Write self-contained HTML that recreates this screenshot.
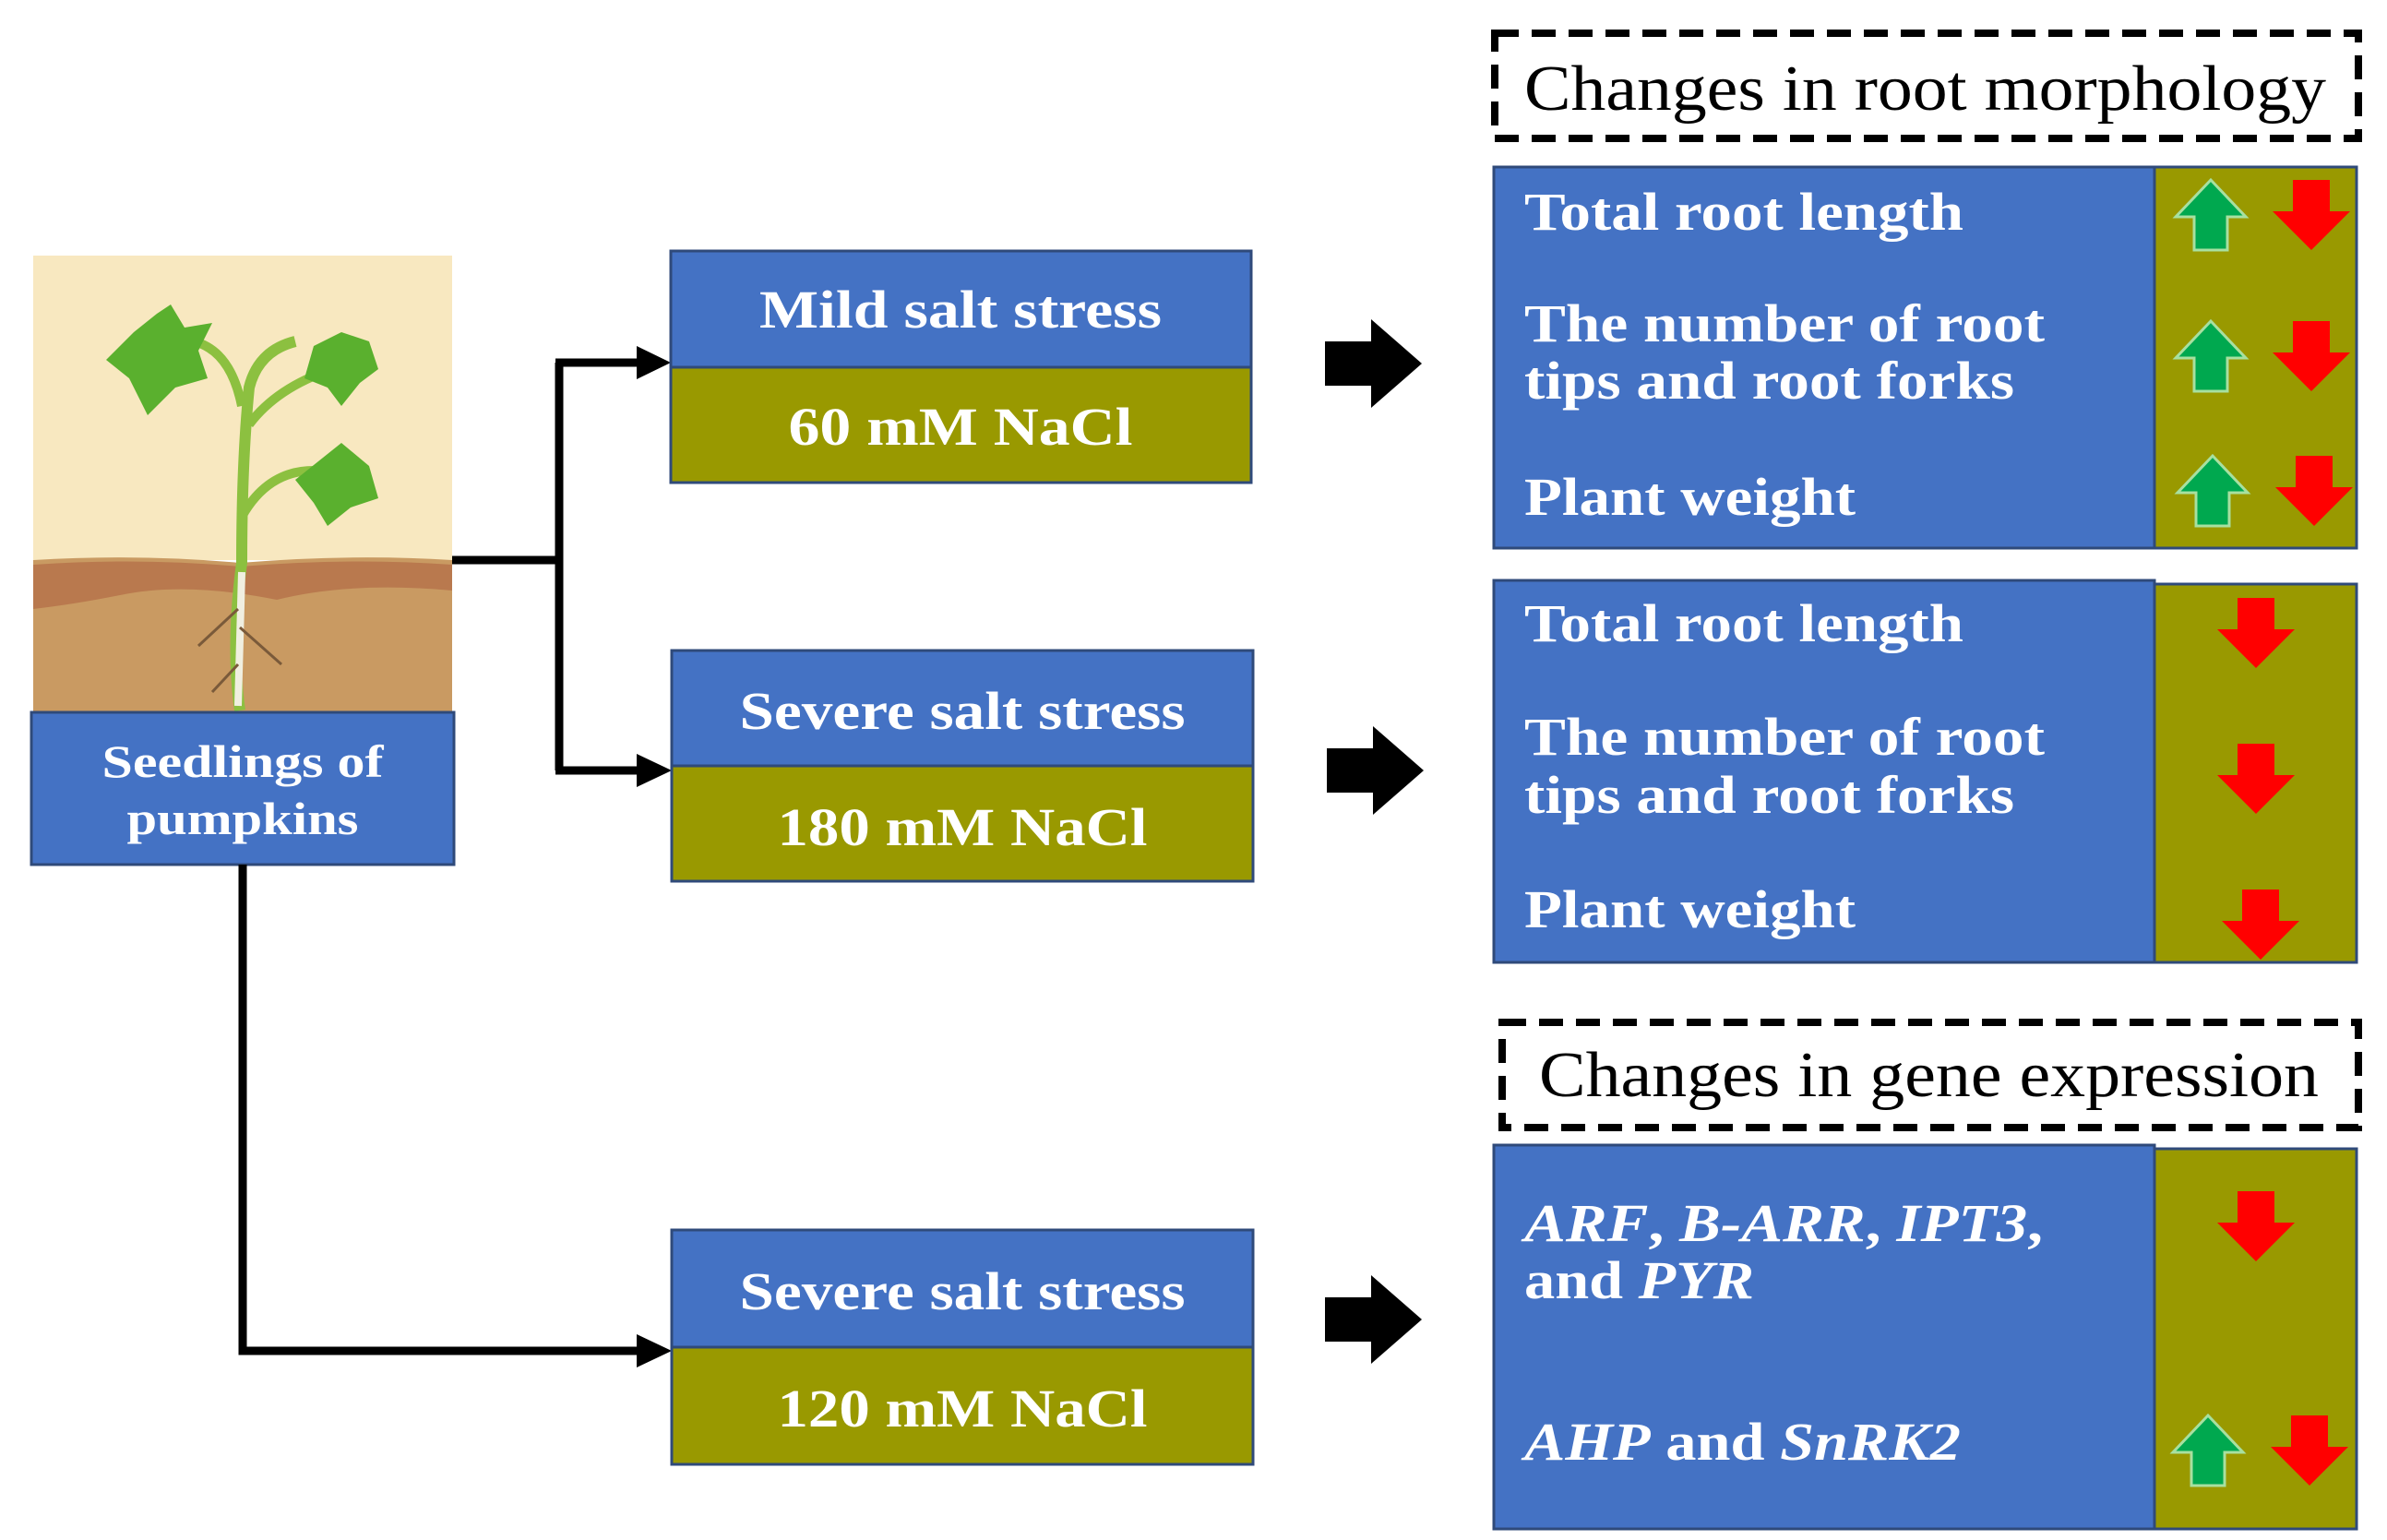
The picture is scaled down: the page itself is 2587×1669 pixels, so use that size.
<!DOCTYPE html>
<html><head><meta charset="utf-8"><style>
html,body{margin:0;padding:0;background:#fff}
svg{display:block}
.b{font-family:"Liberation Serif",serif;font-weight:bold;fill:#fff}
.t{font-family:"Liberation Serif",serif;fill:#000}
</style></head><body>
<svg width="2587" height="1669" viewBox="0 0 2587 1669" xmlns="http://www.w3.org/2000/svg">
<defs>
<g id="dn"><rect x="-20" y="-38" width="40" height="36" fill="#ff0000"/><polygon points="-42,-4 42,-4 0,38" fill="#ff0000"/></g>
<g id="up"><polygon points="0,-38 38,2 18,2 18,38 -18,38 -18,2 -38,2" fill="#00a84f" stroke="#a8e0a0" stroke-width="3"/></g>
<g id="big"><polygon points="0,-24 50,-24 50,-48 105,0 50,48 50,24 0,24" fill="#000"/></g>
</defs>
<!-- plant image -->
<rect x="36" y="277" width="454" height="330" fill="#f8e8c0"/>
<path d="M36 607 Q150 600 260 610 Q380 600 490 607 L490 772 L36 772 Z" fill="#c99a62"/>
<path d="M36 612 Q150 604 260 614 Q380 604 490 612 L490 640 Q380 630 300 650 Q200 630 130 645 Q80 655 36 660 Z" fill="#b9794e"/>
<path d="M260 770 Q250 700 262 610 Q262 500 270 420 Q280 380 320 370" stroke="#8cc040" stroke-width="12" fill="none"/>
<path d="M270 460 Q300 420 360 400" stroke="#8cc040" stroke-width="10" fill="none"/>
<path d="M262 560 Q290 510 340 510" stroke="#8cc040" stroke-width="10" fill="none"/>
<path d="M262 440 Q250 380 210 370" stroke="#8cc040" stroke-width="10" fill="none"/>
<path d="M262 620 L258 765" stroke="#f0efe0" stroke-width="8"/>
<path d="M258 660 L215 700 M260 680 L305 720 M258 720 L230 750" stroke="#7a5a3a" stroke-width="3" fill="none"/>
<polygon points="170,340 145,360 115,390 140,410 160,450 190,420 225,410 215,380 230,350 200,355 185,330" fill="#5ab02e"/>
<polygon points="370,360 340,375 330,410 355,420 370,440 390,415 410,400 400,370" fill="#5ab02e"/>
<polygon points="370,480 345,500 320,520 340,545 355,570 380,550 410,540 400,505" fill="#5ab02e"/>
<!-- seedlings box -->
<rect x="34" y="772" width="458" height="165" fill="#4472c4" stroke="#2f4a7a" stroke-width="3"/>
<text class="b" x="263" y="842" font-size="50" text-anchor="middle" textLength="305" lengthAdjust="spacingAndGlyphs">Seedlings of</text>
<text class="b" x="263" y="904" font-size="50" text-anchor="middle" textLength="251" lengthAdjust="spacingAndGlyphs">pumpkins</text>
<!-- connectors -->
<g stroke="#000" stroke-width="9" fill="none">
<path d="M490 607 L606 607"/>
<path d="M606 393 L606 835"/>
<path d="M602 393 L700 393"/>
<path d="M602 835 L700 835"/>
<path d="M263 937 L263 1464 L700 1464"/>
</g>
<polygon points="690,375 727,393 690,411" fill="#000"/>
<polygon points="690,817 728,835 690,853" fill="#000"/>
<polygon points="690,1446 728,1464 690,1482" fill="#000"/>
<!-- condition boxes -->
<g stroke="#2f4a7a" stroke-width="3">
<rect x="727" y="272" width="629" height="126" fill="#4472c4"/>
<rect x="727" y="398" width="629" height="125" fill="#999900"/>
<rect x="728" y="705" width="630" height="125" fill="#4472c4"/>
<rect x="728" y="830" width="630" height="125" fill="#999900"/>
<rect x="728" y="1333" width="630" height="127" fill="#4472c4"/>
<rect x="728" y="1460" width="630" height="127" fill="#999900"/>
</g>
<text class="b" x="1041" y="355" font-size="58" text-anchor="middle" textLength="436" lengthAdjust="spacingAndGlyphs">Mild salt stress</text>
<text class="b" x="1041" y="482" font-size="58" text-anchor="middle" textLength="373" lengthAdjust="spacingAndGlyphs">60 mM NaCl</text>
<text class="b" x="1043" y="790" font-size="58" text-anchor="middle" textLength="483" lengthAdjust="spacingAndGlyphs">Severe salt stress</text>
<text class="b" x="1043" y="916" font-size="58" text-anchor="middle" textLength="401" lengthAdjust="spacingAndGlyphs">180 mM NaCl</text>
<text class="b" x="1043" y="1419" font-size="58" text-anchor="middle" textLength="483" lengthAdjust="spacingAndGlyphs">Severe salt stress</text>
<text class="b" x="1043" y="1546" font-size="58" text-anchor="middle" textLength="401" lengthAdjust="spacingAndGlyphs">120 mM NaCl</text>
<!-- big arrows -->
<use href="#big" x="1436" y="394"/>
<use href="#big" x="1438" y="835"/>
<use href="#big" x="1436" y="1430"/>
<!-- dashed titles -->
<rect x="1620" y="36" width="936" height="114" fill="#fff" stroke="#000" stroke-width="8" stroke-dasharray="26,14"/>
<text class="t" x="1652" y="119" font-size="70" textLength="869" lengthAdjust="spacingAndGlyphs">Changes in root morphology</text>
<rect x="1628" y="1108" width="928" height="114" fill="#fff" stroke="#000" stroke-width="8" stroke-dasharray="26,14"/>
<text class="t" x="1668" y="1188" font-size="70" textLength="845" lengthAdjust="spacingAndGlyphs">Changes in gene expression</text>
<!-- panels -->
<g stroke="#2f4a7a" stroke-width="3">
<rect x="1619" y="181" width="716" height="413" fill="#4472c4"/>
<rect x="2335" y="181" width="219" height="413" fill="#999900"/>
<rect x="1619" y="629" width="716" height="414" fill="#4472c4"/>
<rect x="2335" y="633" width="219" height="410" fill="#999900"/>
<rect x="1619" y="1241" width="716" height="416" fill="#4472c4"/>
<rect x="2335" y="1245" width="219" height="412" fill="#999900"/>
</g>
<g font-size="58">
<text class="b" x="1652" y="249" textLength="476" lengthAdjust="spacingAndGlyphs">Total root length</text>
<text class="b" x="1652" y="370" textLength="564" lengthAdjust="spacingAndGlyphs">The number of root</text>
<text class="b" x="1652" y="432" textLength="531" lengthAdjust="spacingAndGlyphs">tips and root forks</text>
<text class="b" x="1652" y="558" textLength="359" lengthAdjust="spacingAndGlyphs">Plant weight</text>
<text class="b" x="1652" y="695" textLength="476" lengthAdjust="spacingAndGlyphs">Total root length</text>
<text class="b" x="1652" y="818" textLength="564" lengthAdjust="spacingAndGlyphs">The number of root</text>
<text class="b" x="1652" y="881" textLength="531" lengthAdjust="spacingAndGlyphs">tips and root forks</text>
<text class="b" x="1652" y="1005" textLength="359" lengthAdjust="spacingAndGlyphs">Plant weight</text>
<text class="b" x="1652" y="1345" textLength="562" lengthAdjust="spacingAndGlyphs"><tspan font-style="italic">ARF</tspan>, <tspan font-style="italic">B-ARR</tspan>, <tspan font-style="italic">IPT3</tspan>,</text>
<text class="b" x="1652" y="1407" textLength="249" lengthAdjust="spacingAndGlyphs">and <tspan font-style="italic">PYR</tspan></text>
<text class="b" x="1652" y="1582" textLength="473" lengthAdjust="spacingAndGlyphs"><tspan font-style="italic">AHP</tspan> and <tspan font-style="italic">SnRK2</tspan></text>
</g>
<!-- small arrows -->
<use href="#up" x="2396" y="233"/><use href="#dn" x="2505" y="233"/>
<use href="#up" x="2396" y="386"/><use href="#dn" x="2505" y="386"/>
<use href="#up" x="2398" y="532"/><use href="#dn" x="2508" y="532"/>
<use href="#dn" x="2445" y="686"/>
<use href="#dn" x="2445" y="844"/>
<use href="#dn" x="2450" y="1002"/>
<use href="#dn" x="2445" y="1329"/>
<use href="#up" x="2393" y="1572"/><use href="#dn" x="2503" y="1572"/>
</svg>
</body></html>
